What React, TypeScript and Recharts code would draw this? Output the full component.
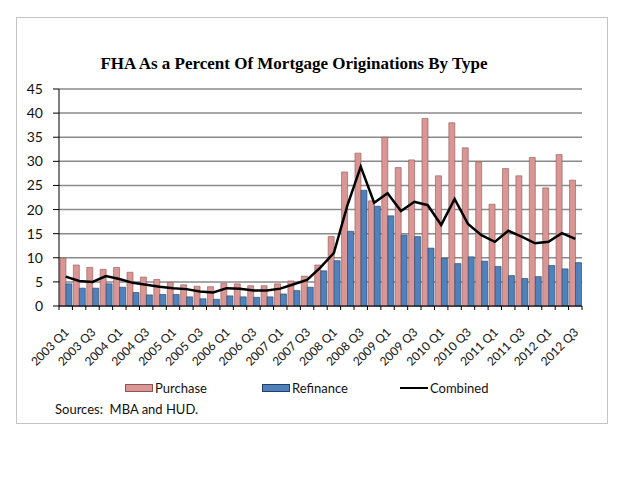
import React from 'react';
import { ComposedChart, Bar, Line, XAxis, YAxis, CartesianGrid } from 'recharts';

const quarters = [
  '2003 Q1', '2003 Q2', '2003 Q3', '2003 Q4',
  '2004 Q1', '2004 Q2', '2004 Q3', '2004 Q4',
  '2005 Q1', '2005 Q2', '2005 Q3', '2005 Q4',
  '2006 Q1', '2006 Q2', '2006 Q3', '2006 Q4',
  '2007 Q1', '2007 Q2', '2007 Q3', '2007 Q4',
  '2008 Q1', '2008 Q2', '2008 Q3', '2008 Q4',
  '2009 Q1', '2009 Q2', '2009 Q3', '2009 Q4',
  '2010 Q1', '2010 Q2', '2010 Q3', '2010 Q4',
  '2011 Q1', '2011 Q2', '2011 Q3', '2011 Q4',
  '2012 Q1', '2012 Q2', '2012 Q3',
];

const purchase = [
  9.9, 8.5, 8.0, 7.6, 8.0, 7.0, 6.0, 5.5, 4.9, 4.4, 4.1, 4.0, 4.7, 4.6, 4.2, 4.2, 4.6, 5.2, 6.2, 8.5,
  14.4, 27.8, 31.7, 21.8, 35.0, 28.7, 30.3, 38.9, 27.0, 38.0, 32.8, 29.9, 21.1, 28.5, 27.0, 30.8, 24.5, 31.4, 26.1,
];

const refinance = [
  4.6, 3.7, 3.7, 4.6, 3.9, 2.8, 2.3, 2.4, 2.4, 1.9, 1.5, 1.4, 2.1, 1.9, 1.8, 1.9, 2.5, 3.2, 3.9, 7.3,
  9.4, 15.5, 24.0, 20.7, 18.7, 14.7, 14.4, 12.0, 9.9, 8.8, 10.2, 9.3, 8.2, 6.3, 5.7, 6.1, 8.4, 7.7, 9.0,
];

const combined = [
  6.1, 5.2, 5.0, 6.2, 5.6, 4.8, 4.4, 4.0, 3.7, 3.5, 3.0, 2.8, 3.7, 3.6, 3.2, 3.2, 3.6, 4.5, 5.4, 8.0,
  11.0, 20.8, 28.9, 21.4, 23.4, 19.7, 21.6, 20.9, 16.8, 22.2, 17.0, 14.7, 13.3, 15.6, 14.4, 13.0, 13.3, 15.1, 13.9,
];

const yTicks = [0, 5, 10, 15, 20, 25, 30, 35, 40, 45];

const data = quarters.map((q, i) => ({
  quarter: q,
  purchase: purchase[i],
  refinance: refinance[i],
  combined: combined[i],
}));

const PINK = '#D99694';
const PINK_EDGE = '#8E5553';
const BLUE = '#4F81BD';
const BLUE_EDGE = '#243F60';
const FONT = 'Lato, "Open Sans", sans-serif';

const XTick = (props: any) => {
  const { x, y, payload } = props;
  const idx = payload?.index ?? props.index ?? 0;
  const half = payload?.offset ?? 6.7;
  const last = idx === quarters.length - 1;
  return (
    <g>
      <line x1={x - half} x2={x - half} y1={y} y2={y + 4} stroke="#000" strokeWidth={1} />
      {last && <line x1={x + half} x2={x + half} y1={y} y2={y + 4} stroke="#000" strokeWidth={1} />}
      {idx % 2 === 0 && (
        <text
          transform={`translate(${x + 4},${y + 27}) rotate(-45)`}
          textAnchor="end"
          fontFamily={FONT}
          fontSize={12}
          fill="#111"
        >
          {payload.value}
        </text>
      )}
    </g>
  );
};

const legendItems = [
  { label: 'Purchase', kind: 'bar', fill: PINK, edge: PINK_EDGE, left: 125 },
  { label: 'Refinance', kind: 'bar', fill: BLUE, edge: BLUE_EDGE, left: 262 },
  { label: 'Combined', kind: 'line', fill: '#000', edge: '#000', left: 400 },
];

export default function App() {
  return (
    <div style={{ position: 'absolute', left: 0, top: 0, width: 624, height: 480, background: '#fff' }}>
      <div
        style={{
          position: 'absolute',
          left: 16,
          top: 17,
          width: 592,
          height: 407,
          border: '1.5px solid #c4c4c4',
          boxSizing: 'border-box',
        }}
      />
      <div
        style={{
          position: 'absolute',
          left: 0,
          width: 588,
          top: 54,
          lineHeight: '20px',
          textAlign: 'center',
          fontFamily: '"Liberation Serif", "Times New Roman", serif',
          fontWeight: 'bold',
          fontSize: 17,
          color: '#000',
        }}
      >
        FHA As a Percent Of Mortgage Originations By Type
      </div>
      <div style={{ position: 'absolute', left: 0, top: 0 }}>
        <ComposedChart
          width={624}
          height={480}
          data={data}
          margin={{ top: 89, right: 42, bottom: 114, left: 19 }}
          barGap={0}
          barCategoryGap="7%"
        >
          <CartesianGrid vertical={false} stroke="#8a8a8a" strokeWidth={1.5} />
          <XAxis
            dataKey="quarter"
            interval={0}
            height={60}
            tickSize={0}
            tickMargin={0}
            tickLine={false}
            axisLine={{ stroke: '#000', strokeWidth: 1 }}
            tick={<XTick />}
          />
          <YAxis
            width={40}
            domain={[0, 45]}
            ticks={yTicks}
            interval={0}
            tickSize={6}
            tickMargin={10}
            axisLine={{ stroke: '#000', strokeWidth: 1 }}
            tickLine={{ stroke: '#000', strokeWidth: 1 }}
            tick={{ fontFamily: FONT, fontSize: 14, fill: '#111' }}
          />
          <Bar dataKey="purchase" fill={PINK} stroke={PINK_EDGE} strokeWidth={0.6} isAnimationActive={false} />
          <Bar dataKey="refinance" fill={BLUE} stroke={BLUE_EDGE} strokeWidth={0.6} isAnimationActive={false} />
          <Line
            dataKey="combined"
            type="linear"
            stroke="#000"
            strokeWidth={2.5}
            dot={false}
            activeDot={false}
            isAnimationActive={false}
          />
        </ComposedChart>
      </div>
      {legendItems.map((it) => (
        <div
          key={it.label}
          style={{
            position: 'absolute',
            left: it.left,
            top: 380,
            height: 16,
            display: 'flex',
            alignItems: 'center',
            fontFamily: FONT,
            fontSize: 13,
            color: '#111',
          }}
        >
          {it.kind === 'bar' ? (
            <span
              style={{
                display: 'inline-block',
                width: 28,
                height: 8,
                background: it.fill,
                border: `1px solid ${it.edge}`,
                boxSizing: 'border-box',
                marginRight: 2,
              }}
            />
          ) : (
            <span
              style={{
                display: 'inline-block',
                width: 28,
                height: 2.5,
                background: '#000',
                marginRight: 2,
              }}
            />
          )}
          <span>{it.label}</span>
        </div>
      ))}
      <div
        style={{
          position: 'absolute',
          left: 55,
          top: 401,
          lineHeight: '16px',
          fontFamily: FONT,
          fontSize: 13,
          color: '#111',
        }}
      >
        Sources:&nbsp; MBA and HUD.
      </div>
    </div>
  );
}
